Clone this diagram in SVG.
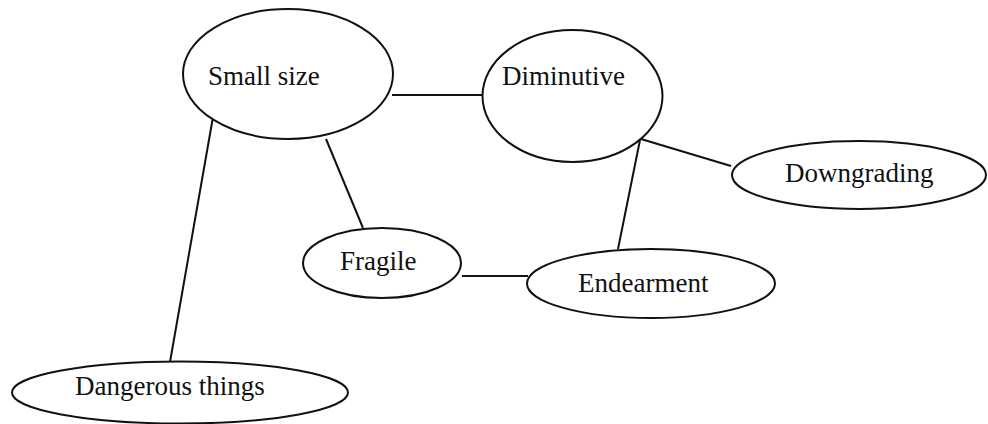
<svg xmlns="http://www.w3.org/2000/svg" width="988" height="424" viewBox="0 0 988 424">
  <style>
    .node ellipse { fill: #ffffff; stroke: #111111; stroke-width: 2; }
    .node text { font-family: "Liberation Serif", "Times New Roman", serif; font-size: 27px; fill: #111111; }
    #connectors line { stroke: #111111; stroke-width: 2; }
  </style>
  <rect width="988" height="424" fill="#ffffff"/>

  <g id="connectors">
    <line x1="392" y1="95" x2="483" y2="95"/>
    <line x1="213" y1="117" x2="170" y2="362"/>
    <line x1="326" y1="139" x2="363" y2="228"/>
    <line x1="462" y1="276" x2="528" y2="276"/>
    <line x1="640" y1="140" x2="618" y2="249"/>
    <line x1="641" y1="139" x2="731" y2="166"/>
  </g>

  <g id="small-size" class="node">
    <ellipse cx="288" cy="74" rx="105" ry="65"/>
    <text x="208" y="85">Small size</text>
  </g>

  <g id="diminutive" class="node">
    <ellipse cx="572.5" cy="96" rx="90" ry="66"/>
    <text x="502" y="85">Diminutive</text>
  </g>

  <g id="downgrading" class="node">
    <ellipse cx="859" cy="175" rx="127" ry="34"/>
    <text x="785" y="182">Downgrading</text>
  </g>

  <g id="fragile" class="node">
    <ellipse cx="382" cy="263" rx="79" ry="35"/>
    <text x="340" y="270">Fragile</text>
  </g>

  <g id="endearment" class="node">
    <ellipse cx="651" cy="283.5" rx="124" ry="34.5"/>
    <text x="578" y="292">Endearment</text>
  </g>

  <g id="dangerous-things" class="node">
    <ellipse cx="180" cy="392.5" rx="168" ry="31"/>
    <text x="75" y="395">Dangerous things</text>
  </g>
</svg>
